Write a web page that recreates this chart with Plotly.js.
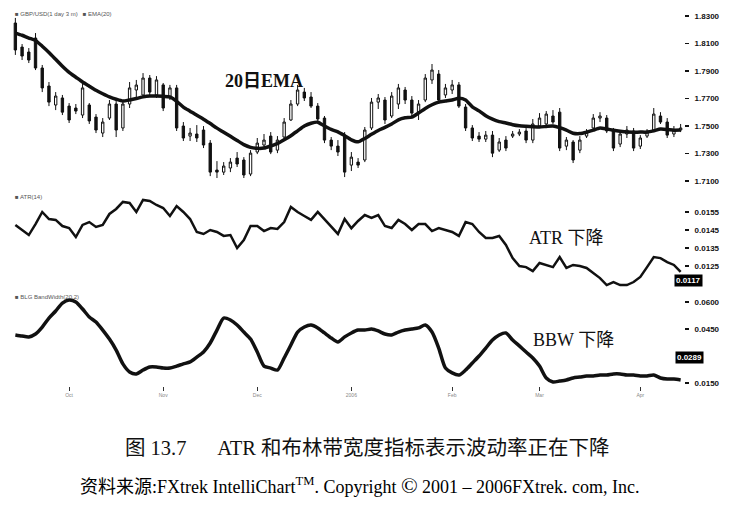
<!DOCTYPE html>
<html><head><meta charset="utf-8">
<script src="https://cdn.plot.ly/plotly-3.0.1.min.js"></script>
<style>html,body{margin:0;padding:0;background:#fff}#chart{width:741px;height:522px}</style>
</head><body><div id="chart"></div>
<script>
// ---- data ----
const openP = [
1.8249,1.8074,1.8038,1.8140,1.7922,1.7791,1.7653,1.7704,1.7645,1.7631,
1.7580,1.7653,1.7565,1.7449,1.7558,1.7660,1.7486,1.7660,1.7762,1.7726,
1.7849,1.7726,1.7799,1.7704,1.7777,1.7500,1.7427,1.7442,1.7471,1.7376,
1.7180,1.7165,1.7195,1.7267,1.7253,1.7151,1.7311,1.7362,1.7427,1.7325,
1.7420,1.7544,1.7660,1.7747,1.7711,1.7645,1.7558,1.7398,1.7354,1.7434,
1.7216,1.7238,1.7253,1.7486,1.7674,1.7689,1.7573,1.7660,1.7762,1.7689,
1.7601,1.7689,1.7835,1.7878,1.7726,1.7762,1.7799,1.7638,1.7486,1.7427,
1.7405,1.7434,1.7325,1.7398,1.7427,1.7442,1.7464,1.7398,1.7500,1.7515,
1.7573,1.7601,1.7354,1.7384,1.7325,1.7427,1.7486,1.7558,1.7558,1.7471,
1.7369,1.7442,1.7464,1.7354,1.7427,1.7471,1.7573,1.7529,1.7442,1.7471];
const highP = [
1.8286,1.8096,1.8067,1.8176,1.7944,1.7820,1.7747,1.7726,1.7667,1.7660,
1.7806,1.7667,1.7587,1.7558,1.7689,1.7682,1.7689,1.7820,1.7835,1.7885,
1.7871,1.7863,1.7813,1.7799,1.7799,1.7529,1.7486,1.7507,1.7500,1.7398,
1.7245,1.7238,1.7267,1.7311,1.7274,1.7325,1.7413,1.7442,1.7456,1.7427,
1.7558,1.7689,1.7799,1.7777,1.7747,1.7667,1.7573,1.7420,1.7398,1.7456,
1.7311,1.7267,1.7493,1.7704,1.7733,1.7711,1.7747,1.7806,1.7784,1.7718,
1.7689,1.7878,1.7951,1.7907,1.7806,1.7835,1.7820,1.7660,1.7507,1.7456,
1.7464,1.7464,1.7413,1.7427,1.7464,1.7478,1.7486,1.7551,1.7594,1.7609,
1.7616,1.7631,1.7420,1.7398,1.7427,1.7478,1.7587,1.7601,1.7580,1.7486,
1.7464,1.7500,1.7486,1.7434,1.7478,1.7631,1.7601,1.7558,1.7500,1.7515];
const lowP = [
1.8017,1.7980,1.7958,1.7907,1.7747,1.7645,1.7616,1.7580,1.7522,1.7587,
1.7558,1.7515,1.7449,1.7420,1.7544,1.7420,1.7464,1.7631,1.7711,1.7704,
1.7726,1.7704,1.7609,1.7689,1.7464,1.7391,1.7391,1.7384,1.7340,1.7136,
1.7122,1.7144,1.7165,1.7202,1.7122,1.7136,1.7296,1.7340,1.7296,1.7303,
1.7405,1.7537,1.7645,1.7682,1.7631,1.7537,1.7376,1.7325,1.7282,1.7129,
1.7173,1.7195,1.7238,1.7471,1.7624,1.7515,1.7558,1.7624,1.7660,1.7565,
1.7544,1.7674,1.7806,1.7660,1.7704,1.7733,1.7631,1.7464,1.7391,1.7384,
1.7384,1.7274,1.7311,1.7318,1.7413,1.7427,1.7376,1.7376,1.7486,1.7486,
1.7515,1.7318,1.7325,1.7231,1.7303,1.7413,1.7478,1.7529,1.7449,1.7318,
1.7347,1.7413,1.7318,1.7333,1.7413,1.7456,1.7515,1.7413,1.7420,1.7456];
const closeP = [
1.8053,1.8009,1.7980,1.7922,1.7777,1.7674,1.7718,1.7601,1.7544,1.7609,
1.7777,1.7537,1.7471,1.7529,1.7660,1.7471,1.7660,1.7777,1.7798,1.7849,
1.7747,1.7835,1.7631,1.7777,1.7486,1.7413,1.7449,1.7413,1.7362,1.7165,
1.7165,1.7209,1.7238,1.7224,1.7144,1.7303,1.7376,1.7398,1.7311,1.7398,
1.7529,1.7660,1.7762,1.7704,1.7645,1.7551,1.7398,1.7354,1.7311,1.7165,
1.7274,1.7216,1.7471,1.7674,1.7704,1.7544,1.7718,1.7777,1.7689,1.7594,
1.7660,1.7849,1.7907,1.7689,1.7777,1.7799,1.7645,1.7486,1.7413,1.7405,
1.7434,1.7303,1.7384,1.7340,1.7442,1.7456,1.7398,1.7515,1.7558,1.7587,
1.7529,1.7340,1.7398,1.7253,1.7398,1.7456,1.7558,1.7573,1.7464,1.7340,
1.7442,1.7471,1.7340,1.7413,1.7456,1.7587,1.7529,1.7434,1.7471,1.7486];
const ema20 = [
1.8176,1.8160,1.8140,1.8122,1.8080,1.8035,1.7985,1.7935,1.7890,1.7855,
1.7820,1.7790,1.7760,1.7735,1.7712,1.7695,1.7682,1.7690,1.7700,1.7712,
1.7718,1.7718,1.7716,1.7712,1.7680,1.7638,1.7608,1.7578,1.7550,1.7518,
1.7485,1.7455,1.7425,1.7395,1.7365,1.7345,1.7338,1.7340,1.7355,1.7372,
1.7400,1.7430,1.7465,1.7500,1.7520,1.7528,1.7500,1.7475,1.7458,1.7430,
1.7400,1.7385,1.7410,1.7440,1.7468,1.7490,1.7515,1.7545,1.7560,1.7565,
1.7595,1.7628,1.7655,1.7674,1.7682,1.7690,1.7702,1.7690,1.7640,1.7610,
1.7575,1.7550,1.7532,1.7522,1.7510,1.7502,1.7498,1.7495,1.7493,1.7497,
1.7500,1.7488,1.7470,1.7448,1.7445,1.7455,1.7470,1.7485,1.7478,1.7470,
1.7462,1.7456,1.7455,1.7456,1.7456,1.7465,1.7478,1.7475,1.7470,1.7471];
const atr14 = [
0.01478,0.01450,0.01422,0.01483,0.01550,0.01511,0.01506,0.01472,0.01461,0.01411,
0.01478,0.01494,0.01467,0.01478,0.01539,0.01567,0.01606,0.01600,0.01550,0.01617,
0.01611,0.01589,0.01572,0.01528,0.01583,0.01550,0.01511,0.01439,0.01428,0.01450,
0.01439,0.01417,0.01422,0.01350,0.01394,0.01472,0.01472,0.01444,0.01461,0.01456,
0.01494,0.01578,0.01550,0.01528,0.01506,0.01550,0.01511,0.01472,0.01428,0.01511,
0.01460,0.01500,0.01533,0.01517,0.01533,0.01472,0.01461,0.01506,0.01483,0.01450,
0.01483,0.01483,0.01444,0.01461,0.01450,0.01439,0.01417,0.01494,0.01483,0.01439,
0.01406,0.01406,0.01417,0.01367,0.01294,0.01250,0.01244,0.01222,0.01267,0.01256,
0.01244,0.01300,0.01239,0.01256,0.01250,0.01239,0.01211,0.01183,0.01144,0.01161,
0.01144,0.01144,0.01161,0.01189,0.01244,0.01300,0.01294,0.01272,0.01256,0.01217];
const bbw = [
0.0417,0.0411,0.0406,0.0422,0.0461,0.0511,0.0550,0.0594,0.0611,0.0600,
0.0561,0.0517,0.0489,0.0444,0.0394,0.0333,0.0256,0.0211,0.0200,0.0222,
0.0239,0.0239,0.0233,0.0233,0.0244,0.0256,0.0267,0.0294,0.0322,0.0372,
0.0444,0.0511,0.0500,0.0472,0.0433,0.0394,0.0322,0.0244,0.0233,0.0222,
0.0289,0.0361,0.0433,0.0461,0.0472,0.0456,0.0428,0.0400,0.0378,0.0406,
0.0428,0.0444,0.0444,0.0450,0.0439,0.0422,0.0417,0.0433,0.0444,0.0450,
0.0456,0.0472,0.0433,0.0344,0.0233,0.0206,0.0194,0.0222,0.0261,0.0300,
0.0344,0.0389,0.0417,0.0428,0.0389,0.0356,0.0322,0.0289,0.0244,0.0178,
0.0156,0.0161,0.0167,0.0178,0.0183,0.0189,0.0189,0.0194,0.0194,0.0200,
0.0200,0.0194,0.0194,0.0189,0.0189,0.0194,0.0178,0.0172,0.0172,0.0167];
const xTickIdx = [8, 22, 36, 50, 65, 78, 93];
const xTickLabels = ['Oct', 'Nov', 'Dec', '2006', 'Feb', 'Mar', 'Apr'];
const priceTicks = [1.71, 1.73, 1.75, 1.77, 1.79, 1.81, 1.83];
const atrTicks = [0.0125, 0.0135, 0.0145, 0.0155];
const bbwTicks = [0.015, 0.045, 0.06];
const atrLast = 0.0117;
const bbwMark = 0.0289;

const bars = closeP.map((_, i) => i);

const INK = '#111';
const tickFont = {family: 'Liberation Sans, Arial, sans-serif', size: 8, color: INK, weight: 'bold'};
const smallFont = {family: 'Liberation Sans, Arial, sans-serif', size: 6, color: '#555'};
const serif = 'Liberation Serif, Noto Sans CJK SC, serif';

const traces = [
  {type: 'candlestick', x: bars, open: openP, high: highP, low: lowP, close: closeP,
   xaxis: 'x', yaxis: 'y', whiskerwidth: 0,
   increasing: {line: {color: INK, width: 1}, fillcolor: '#ffffff'},
   decreasing: {line: {color: INK, width: 1}, fillcolor: INK}, hoverinfo: 'skip'},
  {type: 'scatter', mode: 'lines', x: bars, y: ema20, xaxis: 'x', yaxis: 'y',
   line: {color: INK, width: 3.5, shape: 'spline', smoothing: 0.6}, hoverinfo: 'skip'},
  {type: 'scatter', mode: 'lines', x: bars, y: atr14, xaxis: 'x', yaxis: 'y2',
   line: {color: INK, width: 2.5}, hoverinfo: 'skip'},
  {type: 'scatter', mode: 'lines', x: bars, y: bbw, xaxis: 'x', yaxis: 'y3',
   line: {color: INK, width: 3.5, shape: 'spline', smoothing: 0.7}, hoverinfo: 'skip'}
];

const yCommon = {side: 'right', anchor: 'x', showgrid: false, zeroline: false, showline: false,
  ticks: 'outside', ticklen: 4, tickwidth: 1.5, tickcolor: INK, ticklabelstandoff: 4,
  tickformat: '.4f', tickfont: tickFont, fixedrange: true};

const PW = 672, L = 12, H = 522;
const px = v => (v - L) / PW;
const py = v => 1 - v / H;

const layout = {
  width: 741, height: 522,
  margin: {l: L, r: 741 - L - PW, t: 0, b: 0},
  paper_bgcolor: '#fff', plot_bgcolor: '#fff',
  showlegend: false, boxgap: 0.5,
  xaxis: {anchor: 'y3', range: [-0.5, 99.5], showgrid: false, zeroline: false, showline: false,
    tickvals: xTickIdx, ticktext: xTickLabels, ticks: 'outside', ticklen: 4, tickwidth: 1,
    tickcolor: '#333', tickfont: {family: 'Liberation Sans, Arial', size: 5, color: '#888'},
    rangeslider: {visible: false}, fixedrange: true},
  yaxis: Object.assign({}, yCommon, {domain: [py(190), py(5)], range: [1.7035, 1.8380], tickvals: priceTicks}),
  yaxis2: Object.assign({}, yCommon, {domain: [py(290), py(198)], range: [0.011167, 0.016278], tickvals: atrTicks}),
  yaxis3: Object.assign({}, yCommon, {domain: [py(386), py(296)], range: [0.013333, 0.063333], tickvals: bbwTicks}),
  annotations: [
    {xref: 'paper', yref: 'paper', x: px(264), y: py(69), text: '20日EMA', showarrow: false,
     font: {family: serif, size: 18, color: INK, weight: 'bold'}},
    {xref: 'paper', yref: 'paper', x: px(606), y: py(238), text: 'ATR 下降', showarrow: false,
     font: {family: serif, size: 18, color: INK}},
    {xref: 'paper', yref: 'paper', x: px(616), y: py(340), text: 'BBW 下降', showarrow: false,
     font: {family: serif, size: 18, color: INK}},
    {xref: 'paper', yref: 'paper', x: px(13), y: py(9), xanchor: 'left', text: '■ GBP/USD(1 day 3 m)   ■ EMA(20)', showarrow: false, font: smallFont},
    {xref: 'paper', yref: 'paper', x: px(13), y: py(197), xanchor: 'left', text: '■ ATR(14)', showarrow: false, font: smallFont},
    {xref: 'paper', yref: 'paper', x: px(13), y: py(297), xanchor: 'left', text: '■ BLG BandWidth(20,2)', showarrow: false, font: smallFont},
    {xref: 'paper', yref: 'y2', x: px(703), y: atrLast, text: atrLast.toFixed(4), showarrow: false,
     bgcolor: '#000', borderpad: 1, font: {family: 'Liberation Sans, Arial', size: 8, color: '#fff', weight: 'bold'}},
    {xref: 'paper', yref: 'y3', x: px(704), y: bbwMark, text: bbwMark.toFixed(4), showarrow: false,
     bgcolor: '#000', borderpad: 1, font: {family: 'Liberation Sans, Arial', size: 8, color: '#fff', weight: 'bold'}},
    {xref: 'paper', yref: 'paper', x: px(367), y: py(461), text: '图 13.7\u00a0\u00a0\u00a0\u00a0\u00a0 ATR 和布林带宽度指标表示波动率正在下降', showarrow: false,
     font: {family: serif, size: 20.5, color: INK}},
    {xref: 'paper', yref: 'paper', x: px(360), y: py(500), text: '资料来源:FXtrek IntelliChart<sup>TM</sup>. Copyright <span style="font-size:22px">©</span> 2001 \u2013 2006FXtrek. com, Inc.', showarrow: false,
     font: {family: serif, size: 18, color: '#000'}}
  ]
};

Plotly.newPlot('chart', traces, layout, {staticPlot: true, displayModeBar: false});
</script>
</body></html>
